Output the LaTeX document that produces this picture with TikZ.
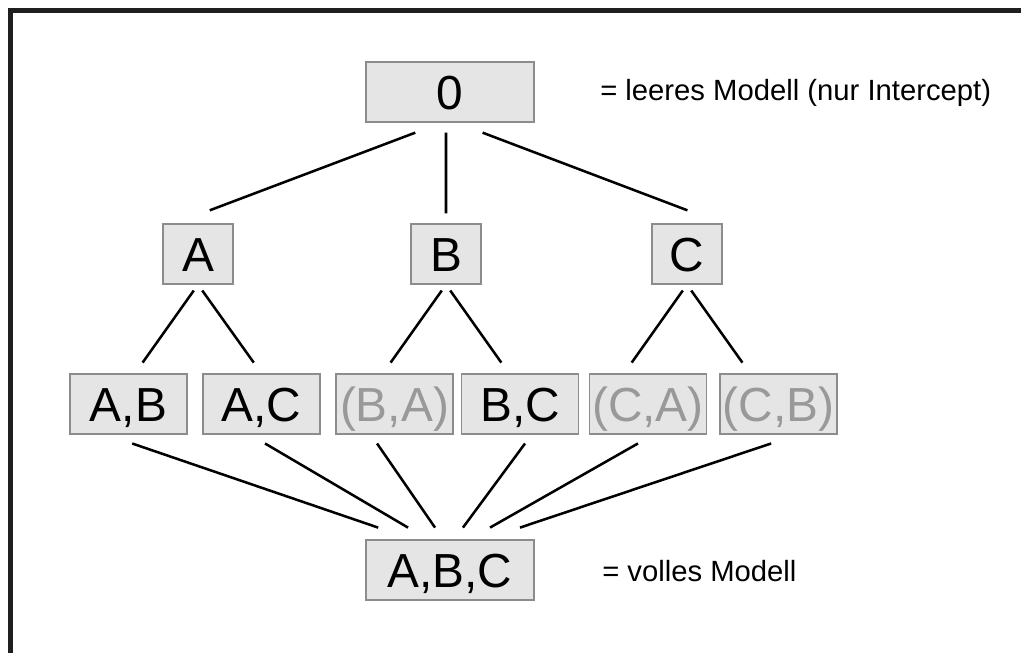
\documentclass[tikz,border=0pt]{standalone}
\usepackage{fontspec}
\setmainfont{Liberation Sans}
\usetikzlibrary{calc}

\begin{document}
\begin{tikzpicture}[
    every node/.style={font=\fontsize{34}{40}\selectfont},
    box/.style={draw=black!45, fill=black!10, line width=0.8pt, minimum height=15mm, text height=24.3pt, text depth=0pt, inner sep=0pt},
    wide/.style={box, minimum width=42mm},
    pair/.style={box, minimum width=29.25mm},
    single/.style={box, minimum width=17.5mm},
    faint/.style={text=black!40},
    note/.style={font=\fontsize{20.8}{25}\selectfont, anchor=base west, inner sep=0pt},
    link/.style={line width=1.8pt}
]
\useasboundingbox (0,0) rectangle (25.525,-16.325);
% Frame (top and left edge only)
\draw[line width=0.125cm, black!88] (25.525,-0.2625) -- (0.2625,-0.2625) -- (0.2625,-16.325);

% Level 0
\node[wide] (top) at (11.25,-2.3) {0};
\node[note] (topnote) at (15.0,-2.5) {= leeres Modell (nur Intercept)};

% Level 1
\node[single] (A) at (4.95,-6.35) {A};
\node[single] (B) at (11.15,-6.35) {B};
\node[single] (C) at (17.175,-6.35) {C};

% Level 2 (grey = same as another pair)
\node[pair] (AB) at (3.2125,-10.1) {A,B};
\node[pair] (AC) at (6.5375,-10.1) {A,C};
\node[pair, faint] (BA) at (9.8625,-10.1) {(B,A)};
\node[pair] (BC) at (13.0,-10.1) {B,C};
\node[pair, faint] (CA) at (16.2,-10.1) {(C,A)};
\node[pair, faint] (CB) at (19.4625,-10.1) {(C,B)};

% Level 3
\node[wide] (ABC) at (11.25,-14.25) {A,B,C};
\node[note] (abcnote) at (15.05,-14.54) {= volles Modell};

% Lines level 0 -> 1
\draw[link] ($([xshift=-2mm]top.south)!0.1!([xshift=-5.75mm]A.north)$) -- ($([xshift=-2mm]top.south)!0.87!([xshift=-5.75mm]A.north)$);
\draw[link] ($([xshift=-1mm]top.south)!0.1!(B.north)$) -- ($([xshift=-1mm]top.south)!0.9!(B.north)$);
\draw[link] ($([xshift=1.5mm]top.south)!0.1!([xshift=8.75mm]C.north)$) -- ($([xshift=1.5mm]top.south)!0.87!([xshift=8.75mm]C.north)$);

% Lines level 1 -> 2
\draw[link] ($(A.south)!0.067!([xshift=1.6mm]AB.north)$) -- ($(A.south)!0.878!([xshift=1.6mm]AB.north)$);
\draw[link] ($(A.south)!0.067!(AC.north)$) -- ($(A.south)!0.878!(AC.north)$);
\draw[link] ($(B.south)!0.067!([xshift=-2.9mm]BA.north)$) -- ($(B.south)!0.878!([xshift=-2.9mm]BA.north)$);
\draw[link] ($(B.south)!0.067!([xshift=-2.75mm]BC.north)$) -- ($(B.south)!0.878!([xshift=-2.75mm]BC.north)$);
\draw[link] ($(C.south)!0.067!([xshift=-6mm]CA.north)$) -- ($(C.south)!0.878!([xshift=-6mm]CA.north)$);
\draw[link] ($(C.south)!0.067!([xshift=-7.1mm]CB.north)$) -- ($(C.south)!0.878!([xshift=-7.1mm]CB.north)$);

% Lines level 2 -> 3
\draw[link] ($([xshift=-5.6mm]AB.south)!0.085!([xshift=-9.3mm]ABC.north)$) -- ($([xshift=-5.6mm]AB.south)!0.887!([xshift=-9.3mm]ABC.north)$);
\draw[link] ($([xshift=-2.9mm]AC.south)!0.085!([xshift=-5.45mm]ABC.north)$) -- ($([xshift=-2.9mm]AC.south)!0.887!([xshift=-5.45mm]ABC.north)$);
\draw[link] ($([xshift=-5.9mm]BA.south)!0.085!([xshift=-1.7mm]ABC.north)$) -- ($([xshift=-5.9mm]BA.south)!0.887!([xshift=-1.7mm]ABC.north)$);
\draw[link] ($([xshift=2.9mm]BC.south)!0.085!([xshift=1.05mm]ABC.north)$) -- ($([xshift=2.9mm]BC.south)!0.887!([xshift=1.05mm]ABC.north)$);
\draw[link] ($([xshift=1.4mm]CA.south)!0.085!([xshift=4.8mm]ABC.north)$) -- ($([xshift=1.4mm]CA.south)!0.887!([xshift=4.8mm]ABC.north)$);
\draw[link] ($([xshift=4.8mm]CB.south)!0.085!([xshift=8.65mm]ABC.north)$) -- ($([xshift=4.8mm]CB.south)!0.887!([xshift=8.65mm]ABC.north)$);
\end{tikzpicture}
\end{document}
